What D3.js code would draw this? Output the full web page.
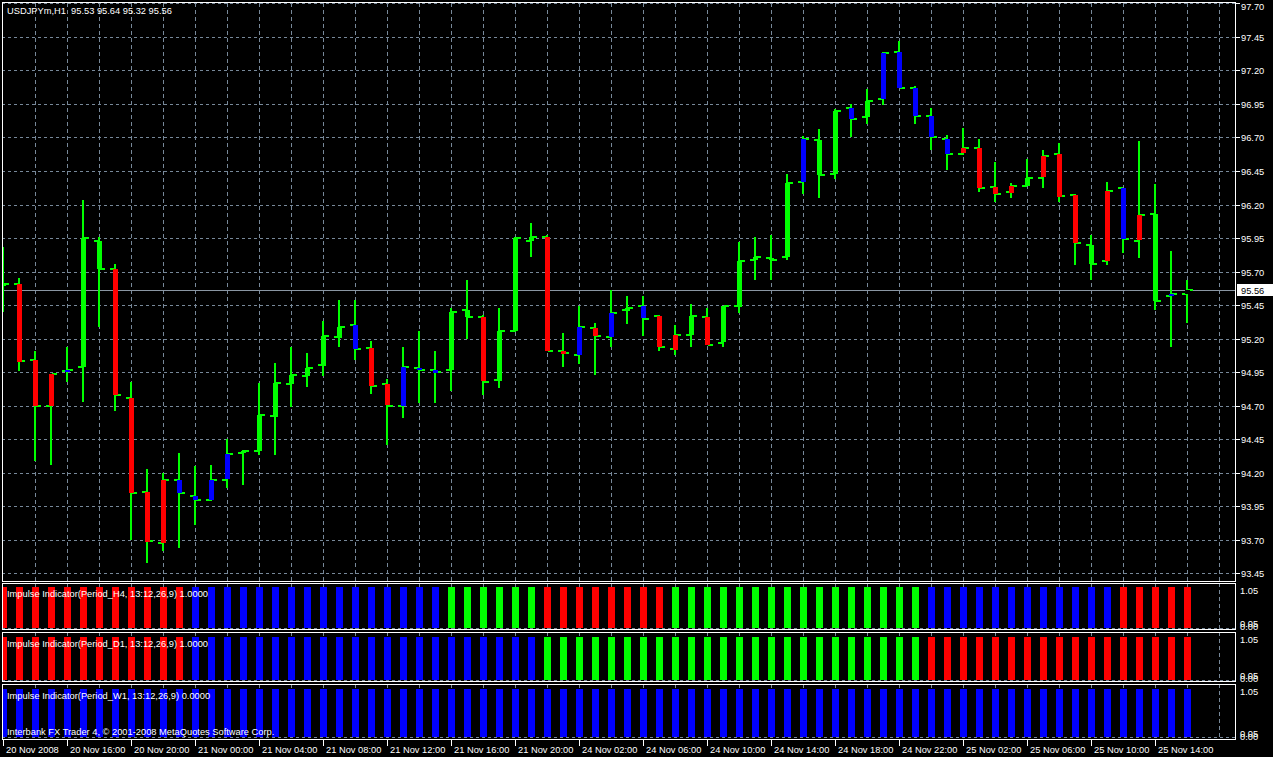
<!DOCTYPE html>
<html><head><meta charset="utf-8">
<script src="https://cdn.jsdelivr.net/npm/d3@7"></script>
<style>
body{margin:0;background:#000;overflow:hidden}
text{font-family:"Liberation Sans",Arial,sans-serif;font-size:9.3px}
</style></head><body>
<svg id="c" width="1273" height="757"></svg>
<script>
// ---- data ----
const opens  = [95.60,95.61,95.04,94.70,94.96,94.99,95.93,95.72,94.76,94.06,93.68,94.15,94.03,94.00,94.15,94.35,94.36,94.62,94.86,94.92,95.00,95.21,95.30,95.13,94.86,94.70,94.98,94.97,94.97,95.41,95.36,94.89,95.26,95.93,95.96,95.11,95.08,95.28,95.21,95.41,95.44,95.37,95.12,95.23,95.36,95.17,95.44,95.79,95.80,95.81,96.37,96.68,96.43,96.92,96.85,96.99,97.34,97.07,96.86,96.69,96.58,96.62,96.33,96.29,96.34,96.40,96.58,96.27,95.90,95.78,96.32,95.93,96.13,95.52,95.53];
const highs  = [95.88,95.65,95.11,94.94,95.14,96.23,95.96,95.76,94.88,94.23,94.20,94.35,94.25,94.26,94.45,94.37,94.87,95.02,95.14,95.09,95.33,95.49,95.49,95.18,94.90,95.14,95.26,95.11,95.43,95.64,95.38,95.43,95.96,96.06,95.97,95.24,95.44,95.32,95.56,95.52,95.52,95.38,95.30,95.46,95.43,95.44,95.92,95.96,95.97,96.43,96.71,96.76,96.91,96.95,97.06,97.34,97.42,97.08,96.92,96.72,96.77,96.69,96.52,96.36,96.54,96.61,96.66,96.28,95.97,96.37,96.32,96.67,96.35,95.85,95.64];
const lows   = [95.40,94.96,94.29,94.26,94.88,94.73,95.29,94.66,93.70,93.53,93.62,93.64,93.81,93.99,94.09,94.11,94.33,94.33,94.69,94.84,94.92,95.14,95.04,94.79,94.41,94.61,94.72,94.72,94.81,95.20,94.78,94.83,95.25,95.81,95.11,94.99,95.01,94.93,95.14,95.31,95.22,95.11,95.08,95.14,95.15,95.14,95.39,95.64,95.64,95.79,96.28,96.25,96.39,96.70,96.80,96.94,97.07,96.80,96.61,96.46,96.57,96.29,96.22,96.25,96.34,96.32,96.22,95.75,95.64,95.75,95.84,95.80,95.41,95.14,95.32];
const closes = [95.61,95.03,94.70,94.94,94.97,95.95,95.72,94.78,94.05,93.69,94.15,94.05,94.00,94.15,94.34,94.36,94.63,94.87,94.93,94.98,95.22,95.29,95.12,94.85,94.70,94.99,94.97,94.95,95.40,95.36,94.88,95.26,95.95,95.96,95.11,95.09,95.29,95.22,95.39,95.43,95.35,95.14,95.23,95.37,95.15,95.44,95.78,95.81,95.79,96.36,96.69,96.42,96.90,96.84,96.97,97.33,97.07,96.86,96.70,96.58,96.62,96.32,96.28,96.34,96.40,96.56,96.26,95.91,95.76,96.30,95.94,96.12,95.48,95.53,95.56];
// impulse colour of each candle body: g / r / b
const bodyImpulse = "grrrbggrrrrbbbbgggggggbrrbbbggrgggrrbrbgbrrgrgggggbggbgbbbbbrrrrgrrrgrbrgb".split("");
const impulseH4 = "rrrrrrrrrrrrbbbbbbbbbbbbbbbbggggggrrrrrrrrggggggggggggggggbbbbbbbbbbbbrrrrr".split("");
const impulseD1 = "rrrrrrrrrrrrbbbbbbbbbbbbbbbbbbbbbbggggggggggggggggggggggggrrrrrrrrrrrrrrrrr".split("");
const impulseW1 = "bbbbbbbbbbbbbbbbbbbbbbbbbbbbbbbbbbbbbbbbbbbbbbbbbbbbbbbbbbbbbbbbbbbbbbbbbbb".split("");
const priceTicks = [97.70,97.45,97.20,96.95,96.70,96.45,96.20,95.95,95.70,95.45,95.20,94.95,94.70,94.45,94.20,93.95,93.70,93.45];
const timeLabels = [[0,"20 Nov 2008"],[4,"20 Nov 16:00"],[8,"20 Nov 20:00"],[12,"21 Nov 00:00"],[16,"21 Nov 04:00"],[20,"21 Nov 08:00"],[24,"21 Nov 12:00"],[28,"21 Nov 16:00"],[32,"21 Nov 20:00"],[36,"24 Nov 02:00"],[40,"24 Nov 06:00"],[44,"24 Nov 10:00"],[48,"24 Nov 14:00"],[52,"24 Nov 18:00"],[56,"24 Nov 22:00"],[60,"25 Nov 02:00"],[64,"25 Nov 06:00"],[68,"25 Nov 10:00"],[72,"25 Nov 14:00"]];
const lastPrice = 95.56;
const title = "USDJPYm,H1  95.53 95.64 95.32 95.56";
const panelTitles = ["Impulse Indicator(Period_H4, 13:12,26,9) 1.0000","Impulse Indicator(Period_D1, 13:12,26,9) 1.0000","Impulse Indicator(Period_W1, 13:12,26,9) 0.0000"];
const copyright = "Interbank FX Trader 4, \u00A9 2001-2008 MetaQuotes Software Corp.";

// ---- drawing ----
const COL = {g:"#00ff00", r:"#ff0000", b:"#0000ff"};
const GRID = "#778899";
const svg = d3.select("#c").attr("shape-rendering","crispEdges");
svg.append("rect").attr("width",1273).attr("height",757).attr("fill","#000");

const n = opens.length;
const x = d3.scaleLinear().domain([0, n-1]).range([3.3, 3.3 + 16*(n-1)]);
const y = d3.scaleLinear().domain([93.45, 97.70]).range([573.4, 3.3]);
const cx = i => Math.round(x(i));
const L = 2, R = 1235;
const gridIdx = d3.range(2, 77, 2);

const defs = svg.append("defs");
function clip(id, y0, y1){
  defs.append("clipPath").attr("id",id).append("rect").attr("x",L+1).attr("y",y0).attr("width",R-L-1).attr("height",y1-y0);
  return "url(#"+id+")";
}

// main panel
const main = svg.append("g").attr("clip-path", clip("cm", 3, 581));
main.selectAll(".hg").data(priceTicks).join("line")
  .attr("x1",L).attr("x2",R).attr("y1",d=>Math.round(y(d))+0.5).attr("y2",d=>Math.round(y(d))+0.5)
  .attr("stroke",GRID).attr("stroke-dasharray","3,3");
main.selectAll(".vg").data(gridIdx).join("line")
  .attr("x1",d=>Math.round(x(d))+0.5).attr("x2",d=>Math.round(x(d))+0.5).attr("y1",3).attr("y2",581)
  .attr("stroke",GRID).attr("stroke-dasharray","4,3");
main.append("line").attr("x1",L).attr("x2",R)
  .attr("y1",Math.round(y(lastPrice))+0.5).attr("y2",Math.round(y(lastPrice))+0.5)
  .attr("stroke","#8a96a3");

const idx = d3.range(n);
// wicks
main.selectAll(".wick").data(idx).join("rect")
  .attr("x",i=>cx(i)-1).attr("width",2)
  .attr("y",i=>Math.round(y(highs[i]))).attr("height",i=>Math.max(1,Math.round(y(lows[i]))-Math.round(y(highs[i]))))
  .attr("fill",COL.g);
// open ticks (left) and close ticks (right)
main.selectAll(".ot").data(idx).join("rect")
  .attr("x",i=>cx(i)-5).attr("width",5)
  .attr("y",i=>Math.round(y(opens[i]))-1).attr("height",2).attr("fill",COL.g);
main.selectAll(".ct").data(idx).join("rect")
  .attr("x",i=>cx(i)+1).attr("width",5)
  .attr("y",i=>Math.round(y(closes[i]))-1).attr("height",2).attr("fill",COL.g);
// bodies
main.selectAll(".body").data(idx).join("rect")
  .attr("x",i=>cx(i)-2).attr("width",5)
  .attr("y",i=>Math.round(Math.min(y(opens[i]),y(closes[i]))))
  .attr("height",i=>Math.max(2,Math.round(Math.abs(y(opens[i])-y(closes[i])))))
  .attr("fill",i=>COL[bodyImpulse[i]]);

svg.append("rect").attr("x",L+0.5).attr("y",2.5).attr("width",R-L).attr("height",579).attr("fill","none").attr("stroke","#fff");

// price axis labels
svg.selectAll(".pt").data(priceTicks).join("line")
  .attr("x1",R+1).attr("x2",R+5).attr("y1",d=>Math.round(y(d))+0.5).attr("y2",d=>Math.round(y(d))+0.5).attr("stroke","#fff");
svg.selectAll(".pl").data(priceTicks).join("text")
  .attr("x",1241).attr("y",d=>Math.max(10, Math.round(y(d))+4)).attr("fill","#fff").text(d=>d.toFixed(2));
const ly = Math.round(y(lastPrice));
svg.append("rect").attr("x",1237).attr("y",ly-6).attr("width",36).attr("height",12).attr("fill","#fff");
svg.append("text").attr("x",1241).attr("y",ly+4).attr("fill","#000").text(lastPrice.toFixed(2));

svg.append("text").attr("x",7).attr("y",14).attr("fill","#fff").attr("xml:space","preserve").text(title);

// indicator panels
const panels = [
  {top:583, bot:629, barTop:587, barBot:628, data:impulseH4, title:panelTitles[0], ty:597},
  {top:632, bot:681, barTop:637, barBot:680, data:impulseD1, title:panelTitles[1], ty:647},
  {top:684, bot:739, barTop:689, barBot:737, data:impulseW1, title:panelTitles[2], ty:699}
];
panels.forEach((p,k)=>{
  const py = d3.scaleLinear().domain([0,1]).range([p.barBot,p.barTop]);
  const g = svg.append("g").attr("clip-path", clip("cp"+k, p.top+1, p.bot));
  g.selectAll(".vg").data(gridIdx).join("line")
    .attr("x1",d=>Math.round(x(d))+0.5).attr("x2",d=>Math.round(x(d))+0.5).attr("y1",p.top).attr("y2",p.bot)
    .attr("stroke",GRID).attr("stroke-dasharray","4,3");
  g.append("line").attr("x1",L).attr("x2",R).attr("y1",p.barBot+0.5).attr("y2",p.barBot+0.5)
    .attr("stroke",GRID).attr("stroke-dasharray","3,3");
  g.selectAll(".bar").data(idx).join("rect")
    .attr("x",i=>cx(i)-3).attr("width",7)
    .attr("y",py(1)).attr("height",py(0)-py(1))
    .attr("fill",i=>COL[p.data[i]]);
  svg.append("rect").attr("x",L+0.5).attr("y",p.top+0.5).attr("width",R-L).attr("height",p.bot-p.top).attr("fill","none").attr("stroke","#fff");
  svg.append("text").attr("x",7).attr("y",p.ty).attr("fill","#fff").text(p.title);
  svg.append("text").attr("x",1240).attr("y",p.top+11).attr("fill","#fff").text("1.05");
  svg.append("text").attr("x",1240).attr("y",p.bot-2).attr("fill","#fff").text("0.05");
  svg.append("text").attr("x",1240).attr("y",p.bot+1).attr("fill","#fff").text("0.00");
});
svg.append("text").attr("x",7).attr("y",735).attr("fill","#fff").text(copyright);

// time axis
svg.selectAll(".tt").data(timeLabels).join("line")
  .attr("x1",d=>cx(d[0])+0.5).attr("x2",d=>cx(d[0])+0.5).attr("y1",740).attr("y2",746).attr("stroke","#fff");
svg.selectAll(".tl").data(timeLabels).join("text")
  .attr("x",d=>cx(d[0])+3).attr("y",753).attr("fill","#fff").text(d=>d[1]);
</script></body></html>
